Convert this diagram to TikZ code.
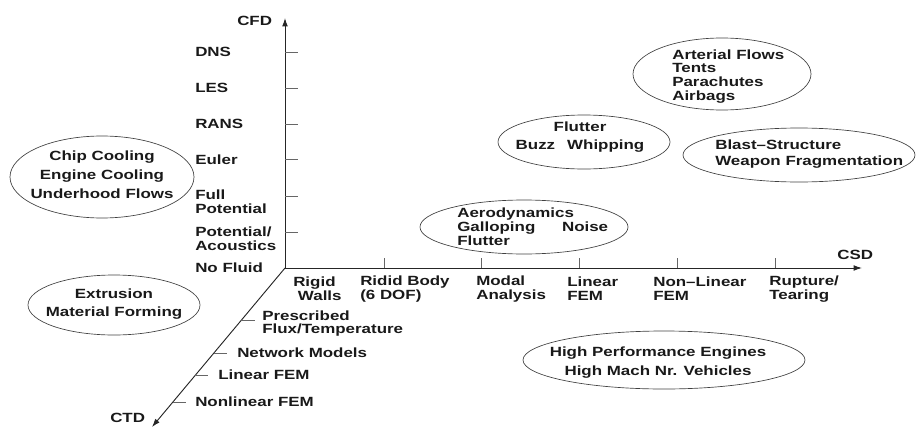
\documentclass[tikz,border=0pt]{standalone}
\usepackage{fontspec}
\setmainfont{Liberation Sans}[FakeStretch=1.27]
\usetikzlibrary{arrows.meta, positioning, calc}
\tikzset{
  axisline/.style={-{Latex[length=2.2mm, width=1.5mm]}, line width=0.7pt, draw=black!85},
  tickline/.style={line width=0.5pt, draw=black!60},
  lbl/.style={anchor=west, align=left, inner sep=0pt, text=black!90,
    font=\bfseries\fontsize{10}{10.4}\selectfont},
  regiontext/.style={align=center, inner sep=0pt, text=black!90,
    font=\bfseries\fontsize{10}{10.4}\selectfont},
  region/.style={draw=black!75, line width=0.5pt}
}
\begin{document}
\begin{tikzpicture}[x=0.75pt, y=-0.75pt]
    \useasboundingbox (0,0) rectangle (916,428);
    % axes
    \coordinate (o) at (285,268);
    \coordinate (cfdend) at (285,18);
    \coordinate (csdend) at (862,268);
    \coordinate (ctdend) at (152,427);
    \draw[axisline] (o) -- (cfdend);
    \draw[axisline] (o) -- (csdend);
    \draw[axisline] (o) -- (ctdend);
    \node[lbl] (cfd) at (237,21) {CFD};
    \node[lbl] (csd) at (837,255) {CSD};
    \node[lbl] (ctd) at (110,418) {CTD};
    % CFD levels
    \draw[tickline] (285,52) -- ++(13,0);
    \draw[tickline] (285,88) -- ++(13,0);
    \draw[tickline] (285,124) -- ++(13,0);
    \draw[tickline] (285,159) -- ++(13,0);
    \draw[tickline] (285,196) -- ++(13,0);
    \draw[tickline] (285,232) -- ++(13,0);
    \node[lbl] (dns) at (195,52) {DNS};
    \node[lbl] (les) at (195,88) {LES};
    \node[lbl] (rans) at (195,124) {RANS};
    \node[lbl] (euler) at (195,160) {Euler};
    \node[lbl] (fullpot) at (195,202) {Full\\Potential};
    \node[lbl] (potac) at (195,238.5) {Potential/\\Acoustics};
    \node[lbl] (nofluid) at (195,268) {No Fluid};
    % CSD levels
    \draw[tickline] (384,268) -- ++(0,-10);
    \draw[tickline] (481,268) -- ++(0,-10);
    \draw[tickline] (579,268) -- ++(0,-10);
    \draw[tickline] (677,268) -- ++(0,-10);
    \draw[tickline] (775,268) -- ++(0,-10);
    \node[lbl] (rigid) at (293,289) {Rigid\\\ Walls};
    \node[lbl] (rigbody) at (360,289) {Ridid Body\\(6 DOF)};
    \node[lbl] (modal) at (476,289) {Modal\\Analysis};
    \node[lbl] (linfem) at (567,289) {Linear\\FEM};
    \node[lbl] (nonlin) at (653,289) {Non--Linear\\FEM};
    \node[lbl] (rupture) at (769,289) {Rupture/\\Tearing};
    % CTD levels
    \draw[tickline] ($(o)!0.327!(ctdend)$) -- ++(13,0);
    \draw[tickline] ($(o)!0.535!(ctdend)$) -- ++(13,0);
    \draw[tickline] ($(o)!0.673!(ctdend)$) -- ++(13,0);
    \draw[tickline] ($(o)!0.843!(ctdend)$) -- ++(13,0);
    \node[lbl] (presc) at (262,323.5) {Prescribed\\Flux/Temperature};
    \node[lbl] (network) at (237,353) {Network Models};
    \node[lbl] (ctdlin) at (218,375) {Linear FEM};
    \node[lbl] (ctdnonlin) at (195,402) {Nonlinear FEM};
    % application regions
    \node[regiontext] (chip) at (102,175) {Chip Cooling\\[3.9pt]Engine Cooling\\[3.9pt]Underhood Flows};
    \draw[region] (102,177) ellipse [x radius=92, y radius=41];
    \node[regiontext] (extr) at (114,304) {Extrusion\\[3.1pt]Material Forming};
    \draw[region] (114,305) ellipse [x radius=86, y radius=30];
    \node[regiontext] (flut) at (580,137) {Flutter\hspace{14pt}\\[3.1pt]Buzz\hspace{9pt}Whipping};
    \draw[region] (584,142) ellipse [x radius=86, y radius=27];
    \node[regiontext, align=left, anchor=west] (arter) at (672,76.5) {Arterial Flows\\Tents\\Parachutes\\Airbags};
    \draw[region] (722,74) ellipse [x radius=89, y radius=36];
    \node[regiontext, align=left, anchor=west] (blast) at (715,154) {Blast--Structure\\[1.6pt]Weapon Fragmentation};
    \draw[region] (799,155) ellipse [x radius=116, y radius=27];
    \node[regiontext, align=left, anchor=west] (aero) at (457,227) {Aerodynamics\\Galloping\hspace{20pt}Noise\\Flutter};
    \draw[region] (524,227) ellipse [x radius=104, y radius=27];
    \node[regiontext] (highperf) at (658,362.5) {High Performance Engines\\[3.9pt]High Mach Nr. Vehicles};
    \draw[region] (664,360) ellipse [x radius=141, y radius=29];
  \end{tikzpicture}
\end{document}
